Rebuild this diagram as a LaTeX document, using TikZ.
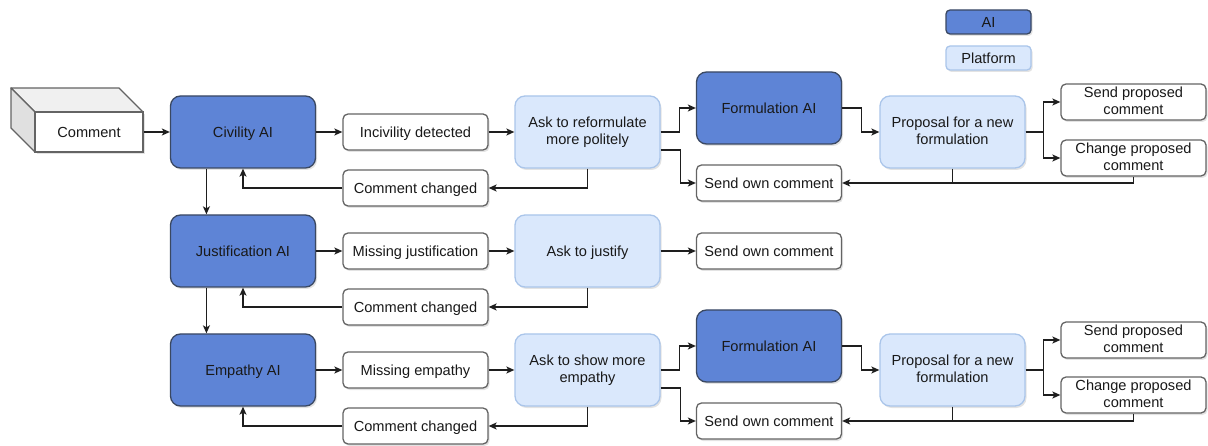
\documentclass[tikz,border=0pt]{standalone}
\usepackage{fontspec}
\setmainfont{Liberation Sans}
\usetikzlibrary{arrows.meta,shadows,calc}
\definecolor{aifill}{RGB}{94,132,214}
\definecolor{aiborder}{RGB}{58,72,98}
\definecolor{platfill}{RGB}{218,232,252}
\definecolor{platborder}{RGB}{170,197,234}
\definecolor{wborder}{RGB}{100,100,100}
\definecolor{lineclr}{RGB}{30,30,30}
\definecolor{txt}{RGB}{25,25,25}
\tikzset{
 base/.style={line width=1.3pt, align=center, inner sep=0pt, font=\fontsize{14.6}{17}\selectfont, text=txt,
   execute at begin node={\rule{0pt}{14.8pt}},
   execute at end node={\rule[-3pt]{0pt}{3pt}},
   drop shadow={shadow xshift=1.5pt, shadow yshift=-2pt, opacity=0.22}},
 aibox/.style={base, draw=aiborder, fill=aifill, minimum width=145pt, minimum height=72pt, rounded corners=10pt},
 platbox/.style={base, draw=platborder, fill=platfill, minimum width=145pt, minimum height=72pt, rounded corners=10pt},
 whitebox/.style={base, draw=wborder, fill=white, minimum width=145pt, minimum height=36pt, rounded corners=5pt},
 arr/.style={-{Stealth[length=8pt,width=7pt,inset=2pt]}, line width=1.2pt, draw=lineclr},
 thickarr/.style={arr, line width=2pt},
 plain/.style={line width=1.2pt, draw=lineclr}
}
\begin{document}
\begin{tikzpicture}[x=1pt,y=-1pt]
\useasboundingbox (0,0) rectangle (1208,446);
% legend
\node[aibox, minimum width=85pt, minimum height=24pt, rounded corners=4pt] (lai) at (988.5,22) {AI};
\node[platbox, minimum width=85pt, minimum height=24pt, rounded corners=4pt] (lplat) at (988.5,58) {Platform};
% comment 3D box
\coordinate (cnw) at (35,112);
\coordinate (cne) at (143,112);
\coordinate (csw) at (35,152);
\filldraw[fill=black!6, draw=wborder, line width=1.3pt, line join=round] (cnw) -- ++(-24,-24) -- ($(cne)+(-24,-24)$) -- (cne) -- cycle;
\filldraw[fill=black!12, draw=wborder, line width=1.3pt, line join=round] (cnw) -- ++(-24,-24) -- ($(csw)+(-24,-24)$) -- (csw) -- cycle;
\node[whitebox, rounded corners=0pt, minimum width=108pt, minimum height=40pt, drop shadow={opacity=0}] (comment) at (89,132) {Comment};
% row 1
\node[aibox] (civ) at (243,132) {Civility AI};
\node[whitebox] (inc) at (415.5,132) {Incivility detected};
\node[platbox] (ask1) at (587.5,132) {Ask to reformulate\\more politely};
\node[aibox] (form1) at (769,108) {Formulation AI};
\node[platbox] (prop1) at (952.5,132) {Proposal for a new\\formulation};
\node[whitebox] (sp1) at (1133.5,102) {Send proposed\\comment};
\node[whitebox] (cp1) at (1133.5,158) {Change proposed\\comment};
\node[whitebox] (own1) at (769,183) {Send own comment};
\node[whitebox] (cc1) at (415.5,188) {Comment changed};
% row 2
\node[aibox] (just) at (243,251) {Justification AI};
\node[whitebox] (mj) at (415.5,251) {Missing justification};
\node[platbox] (ask2) at (587.5,251) {Ask to justify};
\node[whitebox] (own2) at (769,251) {Send own comment};
\node[whitebox] (cc2) at (415.5,307) {Comment changed};
% row 3
\node[aibox] (emp) at (243,370) {Empathy AI};
\node[whitebox] (me) at (415.5,370) {Missing empathy};
\node[platbox] (ask3) at (587.5,370) {Ask to show more\\empathy};
\node[aibox] (form3) at (769,346) {Formulation AI};
\node[platbox] (prop3) at (952.5,370) {Proposal for a new\\formulation};
\node[whitebox] (sp3) at (1133.5,340) {Send proposed\\comment};
\node[whitebox] (cp3) at (1133.5,395) {Change proposed\\comment};
\node[whitebox] (own3) at (769,421) {Send own comment};
\node[whitebox] (cc3) at (415.5,426) {Comment changed};
% connectors row 1
\draw[arr] (comment) -- (civ);
\draw[arr] (civ) -- (inc);
\draw[thickarr] (inc) -- (ask1);
\draw[arr] (ask1.east) -- ++(19,0) |- (form1.west);
\draw[arr] ($(ask1.east)+(0,18)$) -- ++(20,0) |- (own1.west);
\draw[arr] (form1.east) -- ++(19,0) |- (prop1.west);
\draw[arr] (prop1.east) -- ++(18,0) |- (sp1.west);
\draw[arr] (prop1.east) -- ++(18,0) |- (cp1.west);
\draw[plain] (prop1.south) -- (prop1.south |- own1.east);
\draw[arr] (cp1.south) |- (own1.east);
\draw[arr] (ask1.south) |- (cc1.east);
\draw[arr] (cc1.west) -| (civ.south);
\draw[arr] ($(civ.south west)!0.25!(civ.south east)$) -- ($(just.north west)!0.25!(just.north east)$);
% connectors row 2
\draw[arr] (just) -- (mj);
\draw[thickarr] (mj) -- (ask2);
\draw[arr] (ask2) -- (own2);
\draw[arr] (ask2.south) |- (cc2.east);
\draw[arr] (cc2.west) -| (just.south);
\draw[arr] ($(just.south west)!0.25!(just.south east)$) -- ($(emp.north west)!0.25!(emp.north east)$);
% connectors row 3
\draw[arr] (emp) -- (me);
\draw[thickarr] (me) -- (ask3);
\draw[arr] (ask3.east) -- ++(19,0) |- (form3.west);
\draw[arr] ($(ask3.east)+(0,18)$) -- ++(20,0) |- (own3.west);
\draw[arr] (form3.east) -- ++(19,0) |- (prop3.west);
\draw[arr] (prop3.east) -- ++(18,0) |- (sp3.west);
\draw[arr] (prop3.east) -- ++(18,0) |- (cp3.west);
\draw[plain] (prop3.south) -- (prop3.south |- own3.east);
\draw[arr] (cp3.south) |- (own3.east);
\draw[arr] (ask3.south) |- (cc3.east);
\draw[arr] (cc3.west) -| (emp.south);
\end{tikzpicture}
\end{document}
